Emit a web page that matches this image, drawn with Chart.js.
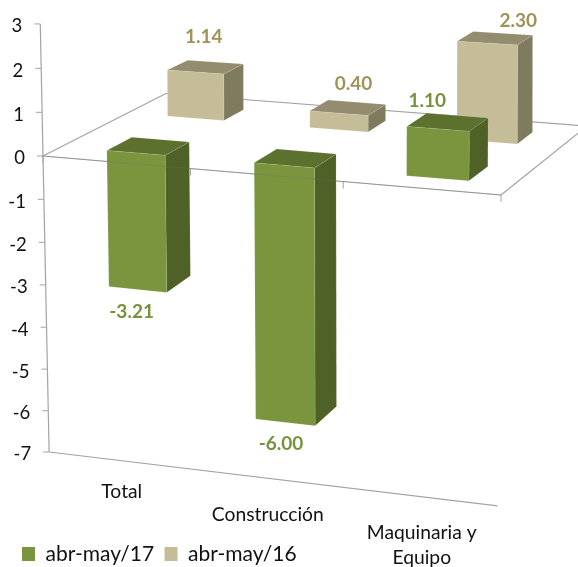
<!DOCTYPE html>
<html><head><meta charset="utf-8">
<style>html,body{margin:0;padding:0;background:#fff}#w{width:578px;height:567px}</style>
<script src="https://cdn.jsdelivr.net/npm/chart.js@4"></script>
</head><body><div id="w"><canvas id="c"></canvas></div>
<script>
const categories = ['Total', 'Construcción', ['Maquinaria y', 'Equipo']];
const seriesNames = ['abr-may/17', 'abr-may/16'];
const values17 = [-3.21, -6.00, 1.10];
const values16 = [1.14, 0.40, 2.30];
const valueMin = -7, valueMax = 3;

/* style and projection settings */
const FONT = 'Lato, Carlito, sans-serif';
const TICK_SIZE = 18.5, CAT_SIZE = 19.3, LEGEND_SIZE = 21, LABEL_SIZE = 19;
const AXIS = '#a3a3a3';
const COLORS = [
  {front:'#7a953e', side:'#4f6127', top:'#5b712d', text:'#76923c'},
  {front:'#c4bd97', side:'#7f7b5f', top:'#948c6f', text:'#a09358'}
];
const DEPTH = [[0.15,0.36],[0.69,0.86]];
const ROW_SHIFT = [[0.005,0.005],[-0.0048,0.0057]];
const CORNERS = {fl:[43,156], fr:[501,195], bl:[166,93.5], br:[587,126]};
const UP = {fl:[-0.9,-43.5], fr:[0.5,-45.7], bl:[0,-38.4], br:[0,-41.6]};
const U_WARP = 0.05;
const LABEL_OFFSETS = [[[-16,31],[-13,31],[-18,-21]], [[-3,-30],[6,-24],[25,-17]]];
const XLABEL_OFFSETS = [[1,31],[0,37],[2,36]];

function mix(c,u,z){
  const a=c.fl,b=c.fr,d=c.bl,e=c.br;
  return [0,1].map(i=>(1-z)*((1-u)*a[i]+u*b[i])+z*((1-u)*d[i]+u*e[i]));
}
function project(u,v,z){
  const w0=u-U_WARP*u*(1-u);
  const f=mix(CORNERS,w0,z), w=mix(UP,w0,z), vv=v+0.004*v*v;
  return [f[0]+w[0]*vv, f[1]+w[1]*vv];
}
function poly(ctx,pts,fill,stroke){
  ctx.beginPath();
  pts.forEach((p,i)=>i?ctx.lineTo(p[0],p[1]):ctx.moveTo(p[0],p[1]));
  ctx.closePath();
  ctx.fillStyle=fill; ctx.fill();
  if(stroke){ctx.strokeStyle=stroke;ctx.lineWidth=0.8;ctx.stroke();}
}
function seg(ctx,a,b,color,w){
  ctx.beginPath();ctx.moveTo(a[0],a[1]);ctx.lineTo(b[0],b[1]);
  ctx.strokeStyle=color;ctx.lineWidth=w||1;ctx.stroke();
}
const cuboid3d = {
  id:'cuboid3d',
  beforeDatasetsDraw(chart){
    const ctx=chart.ctx, xs=chart.scales.x, ys=chart.scales.y, area=chart.chartArea;
    const U=px=>(px-area.left)/area.width;
    ctx.save();
    ctx.lineJoin='round';
    /* walls and floor */
    seg(ctx,project(0,ys.max,0),project(0,ys.min,0),AXIS,1.2);
    seg(ctx,project(0,ys.min,0),project(1,ys.min,0),AXIS,1.2);
    seg(ctx,project(0,0,0),project(1,0,0),AXIS,1.2);
    seg(ctx,project(0,0,0),project(0,0,1),AXIS,1.2);
    seg(ctx,project(1,0,0),project(1,0,1),AXIS,1.2);
    seg(ctx,project(0,0,1),project(1,0,1),AXIS,1.2);
    /* value ticks and labels */
    ctx.font=TICK_SIZE+'px '+FONT; ctx.textBaseline='middle'; ctx.textAlign='right';
    ys.ticks.forEach(t=>{
      const p=project(0,t.value,0);
      seg(ctx,[p[0]-6,p[1]],p,AXIS,1);
      ctx.fillStyle='#111';
      ctx.fillText(t.label,p[0]-18,p[1]+2.5);
    });
    /* category ticks and labels */
    const step=xs.width/xs.ticks.length;
    for(let i=0;i<=xs.ticks.length;i++){
      const p=project(U(xs.left+i*step),0,0);
      seg(ctx,p,[p[0],p[1]+7],AXIS,1);
    }
    ctx.textAlign='center';
    ctx.font=CAT_SIZE+'px '+FONT;
    xs.ticks.forEach((t,i)=>{
      const p=project(U(xs.getPixelForValue(i)),ys.min,0), o=XLABEL_OFFSETS[i];
      [].concat(chart.data.labels[i]).forEach((s,k)=>{
        ctx.fillStyle='#111';ctx.fillText(s,p[0]+o[0],p[1]+o[1]+k*25);
      });
    });
    /* bars: back row first */
    [1,0].forEach(ds=>{
      const meta=chart.getDatasetMeta(ds), c=COLORS[ds], dz=DEPTH[ds], rs=ROW_SHIFT[ds];
      const S=u=>u+rs[0]+(rs[1]-rs[0])*u;
      meta.data.forEach((el,i)=>{
        const u0=S(U(el.x-el.width/2)), u1=S(U(el.x+el.width/2));
        const a=ys.getValueForPixel(el.y), b=ys.getValueForPixel(el.base);
        const hi=Math.max(a,b), lo=Math.min(a,b);
        const edge='rgba(255,255,255,0.12)';
        poly(ctx,[project(u1,hi,dz[0]),project(u1,hi,dz[1]),project(u1,lo,dz[1]),project(u1,lo,dz[0])],c.side,edge);
        poly(ctx,[project(u0,hi,dz[0]),project(u1,hi,dz[0]),project(u1,hi,dz[1]),project(u0,hi,dz[1])],c.top,edge);
        poly(ctx,[project(u0,hi,dz[0]),project(u1,hi,dz[0]),project(u1,lo,dz[0]),project(u0,lo,dz[0])],c.front,edge);
      });
    });
    /* faint front edge seen across the near bars */
    seg(ctx,project(0,0,0),project(1,0,0),'rgba(110,110,110,0.3)',1);
    /* value labels */
    ctx.font='bold '+LABEL_SIZE+'px '+FONT;
    [1,0].forEach(ds=>{
      const meta=chart.getDatasetMeta(ds), dz=DEPTH[ds];
      meta.data.forEach((el,i)=>{
        const val=chart.data.datasets[ds].data[i];
        const p=project(U(el.x),val,(dz[0]+dz[1])/2), o=LABEL_OFFSETS[ds][i];
        ctx.fillStyle=COLORS[ds].text;
        ctx.fillText(val.toFixed(2),p[0]+o[0],p[1]+o[1]);
      });
    });
    ctx.restore();
    return false;
  },
  afterLayout(chart){
    chart.legend.left=11.5;
    chart.legend.top=chart.height-34;
  }
};
Chart.defaults.font.family=FONT;
new Chart(document.getElementById('c'),{
  type:'bar',
  data:{labels:categories,datasets:[
    {label:seriesNames[0],data:values17,backgroundColor:COLORS[0].front},
    {label:seriesNames[1],data:values16,backgroundColor:COLORS[1].front}
  ]},
  plugins:[cuboid3d],
  options:{
    responsive:true,maintainAspectRatio:false,animation:false,
    grouped:false,categoryPercentage:1,barPercentage:0.4,
    layout:{padding:{top:24,right:77,left:0,bottom:0}},
    scales:{
      x:{grid:{display:false},border:{display:false},ticks:{display:false},
         afterFit(s){s.height=73;}},
      y:{min:valueMin,max:valueMax,grid:{display:false},border:{display:false},
         ticks:{display:false,stepSize:1,autoSkip:false},afterFit(s){s.width=43;}}
    },
    plugins:{
      tooltip:{enabled:false},
      legend:{position:'bottom',align:'start',
        labels:{boxWidth:13,boxHeight:14,padding:10.5,color:'#111',font:{size:LEGEND_SIZE,family:FONT}}}
    }
  }
});
</script></body></html>
